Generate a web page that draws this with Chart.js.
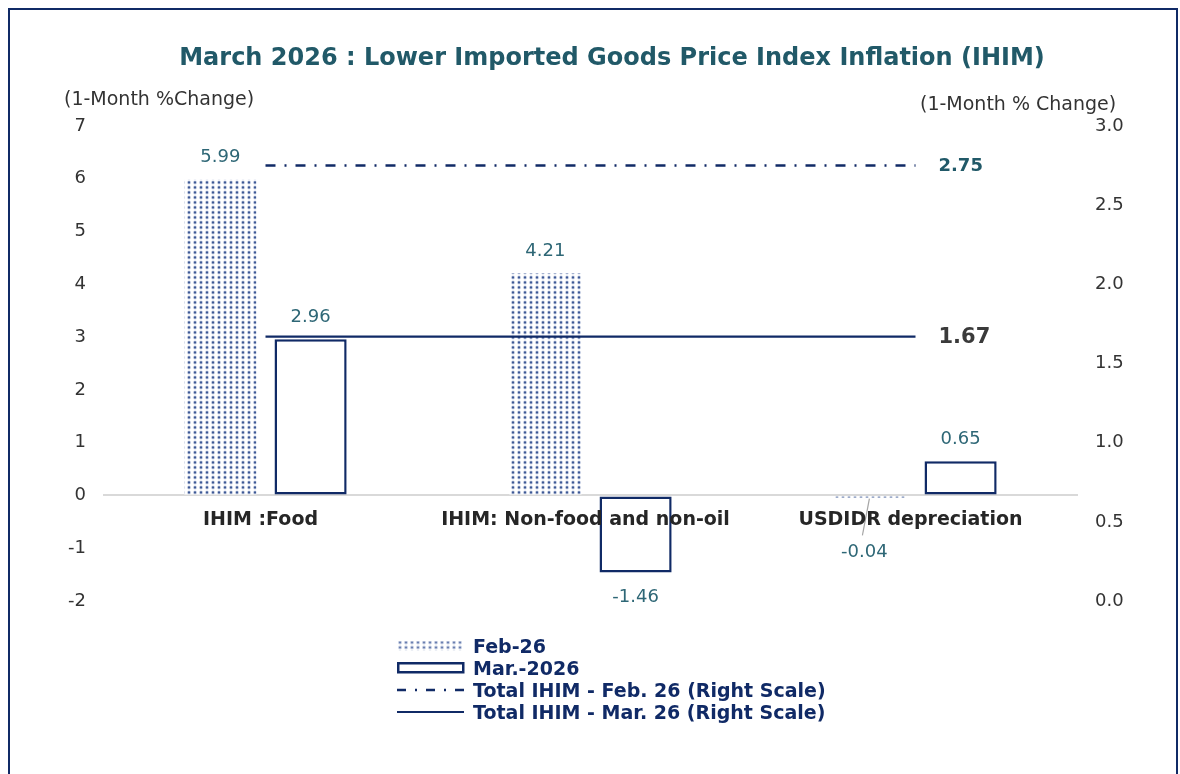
<!DOCTYPE html>
<html>
<head>
<meta charset="utf-8">
<script src="https://cdn.jsdelivr.net/npm/chart.js@4"></script>
<style>
  html, body { margin: 0; padding: 0; background: #fff; }
  body { width: 1180px; height: 774px; position: relative; overflow: hidden;
         font-family: "DejaVu Sans", Verdana, sans-serif; }
  #frame { position: absolute; left: 8px; top: 8px; width: 1170px; height: 800px;
           box-sizing: border-box; border: 2px solid #102a66; }
  #chart { position: absolute; left: 0; top: 0; }
  .txt { position: absolute; white-space: nowrap; line-height: 1; }
  #title { left: 612px; top: 45px; transform: translateX(-50%); font-size: 24px;
           font-weight: bold; color: #215968; }
  #headL { left: 64px; top: 89px; font-size: 19px; color: #333; }
  #headR { left: 920px; top: 94px; font-size: 19px; color: #333; }
  #legend { position: absolute; left: 397px; top: 635px; }
  .item { display: flex; align-items: center; height: 22px; font-size: 19px;
          font-weight: bold; color: #102a66; }
  .item svg { margin-right: 8px; }
</style>
</head>
<body>
<div id="frame"></div>
<canvas id="chart" width="1180" height="774"></canvas>
<div class="txt" id="title">March 2026 : Lower Imported Goods Price Index Inflation (IHIM)</div>
<div class="txt" id="headL">(1-Month %Change)</div>
<div class="txt" id="headR">(1-Month % Change)</div>
<div id="legend"></div>
<script>
const categories = ["IHIM :Food", "IHIM: Non-food and non-oil", "USDIDR depreciation"];
const feb26 = [5.99, 4.21, -0.04];
const mar26 = [2.96, -1.46, 0.65];
const totalFeb = [2.75, 2.75, 2.75];
const totalMar = [1.67, 1.67, 1.67];
const seriesNames = ["Feb-26", "Mar.-2026", "Total IHIM - Feb. 26 (Right Scale)", "Total IHIM - Mar. 26 (Right Scale)"];

const NAVY = "#102a66";
const TEAL = "#2e6776";
const FONT = "'DejaVu Sans', Verdana, sans-serif";
Chart.defaults.font.family = FONT;

function dotPattern() {
  const c = document.createElement("canvas");
  c.width = 6; c.height = 5;
  const g = c.getContext("2d");
  g.fillStyle = "#ffffff";
  g.fillRect(0, 0, 6, 5);
  g.fillStyle = "#c8d1e4";
  g.beginPath(); g.arc(3, 2.5, 2.0, 0, Math.PI * 2); g.fill();
  g.fillStyle = "#3d5895";
  g.beginPath(); g.arc(3, 2.5, 1.15, 0, Math.PI * 2); g.fill();
  return g.createPattern(c, "repeat");
}
const ctx = document.getElementById("chart").getContext("2d");
const febFill = dotPattern();

// value labels, category labels under the zero line, and end-of-line labels
const labelsPlugin = {
  id: "labels",
  afterDatasetsDraw(chart) {
    const g = chart.ctx;
    const y0 = chart.scales.y.getPixelForValue(0);
    g.save();
    g.textAlign = "center";
    g.textBaseline = "middle";

    [0, 1].forEach((di) => {
      const meta = chart.getDatasetMeta(di);
      const vals = chart.data.datasets[di].data;
      meta.data.forEach((el, i) => {
        const v = vals[i];
        g.font = "18px " + FONT;
        g.fillStyle = TEAL;
        if (v >= 0) {
          g.fillText(v.toFixed(2), el.x, el.y - 22);
        } else if (v > -0.3) {
          // tiny bar: push the label below the category text with a leader line
          const ly = y0 + 57;
          g.strokeStyle = "#a6a6a6";
          g.lineWidth = 1.2;
          g.beginPath();
          g.moveTo(el.x - 1, el.y + 1);
          g.lineTo(el.x - 8, ly - 17);
          g.stroke();
          g.fillText(v.toFixed(2), el.x - 6, ly);
        } else {
          g.fillText(v.toFixed(2), el.x, el.y + 25);
        }
      });
    });

    const x = chart.scales.x;
    g.font = "bold 19px " + FONT;
    g.fillStyle = "#262626";
    categories.forEach((c, i) => {
      g.fillText(c, x.getPixelForValue(i) - 5, y0 + 25);
    });

    g.textAlign = "left";
    const lf = chart.getDatasetMeta(2).data;
    const lm = chart.getDatasetMeta(3).data;
    const endF = lf[lf.length - 1], endM = lm[lm.length - 1];
    g.font = "bold 18px " + FONT;
    g.fillStyle = "#215968";
    g.fillText(totalFeb[totalFeb.length - 1].toFixed(2), endF.x + 23, endF.y + 1);
    g.font = "bold 21px " + FONT;
    g.fillStyle = "#3a3a3a";
    g.fillText(totalMar[totalMar.length - 1].toFixed(2), endM.x + 23, endM.y + 1);
    g.restore();
  }
};

new Chart(ctx, {
  data: {
    labels: categories,
    datasets: [
      {
        type: "bar", label: seriesNames[0], data: feb26, yAxisID: "y",
        backgroundColor: febFill, borderWidth: 0, order: 2,
        categoryPercentage: 0.555, barPercentage: 0.8,
      },
      {
        type: "bar", label: seriesNames[1], data: mar26, yAxisID: "y",
        backgroundColor: "#ffffff", borderColor: NAVY, borderWidth: 2.5,
        borderSkipped: false, order: 2,
        categoryPercentage: 0.555, barPercentage: 0.8,
      },
      {
        type: "line", label: seriesNames[2], data: totalFeb, yAxisID: "y1",
        borderColor: NAVY, borderWidth: 2.5, borderDash: [10, 9, 2, 9],
        pointRadius: 0, fill: false, order: 1,
      },
      {
        type: "line", label: seriesNames[3], data: totalMar, yAxisID: "y1",
        borderColor: NAVY, borderWidth: 2.2, pointRadius: 0, fill: false, order: 1,
      },
    ],
  },
  options: {
    responsive: false,
    devicePixelRatio: 1,
    animation: false,
    layout: { padding: { top: 126, bottom: 173, left: 0, right: 0 } },
    plugins: { legend: { display: false }, tooltip: { enabled: false }, title: { display: false } },
    scales: {
      x: { display: false, offset: true },
      y: {
        position: "left", min: -2, max: 7,
        ticks: { stepSize: 1, padding: 17, color: "#333", font: { size: 18 } },
        grid: {
          drawTicks: false, lineWidth: 2,
          color: (c) => (c.tick && c.tick.value === 0 ? "#d9d9d9" : "rgba(0,0,0,0)"),
        },
        border: { display: false },
        afterFit: (s) => { s.width = 103; },
      },
      y1: {
        position: "right", min: 0, max: 3,
        ticks: { stepSize: 0.5, padding: 17, color: "#333", font: { size: 18 },
                 callback: (v) => Number(v).toFixed(1) },
        grid: { display: false, drawTicks: false },
        border: { display: false },
        afterFit: (s) => { s.width = 102; },
      },
    },
  },
  plugins: [labelsPlugin],
});

// legend
const swatches = [
  '<svg width="68" height="12"><defs><pattern id="dp" width="6" height="5" patternUnits="userSpaceOnUse">' +
    '<rect width="6" height="5" fill="#fff"/><circle cx="3" cy="2.5" r="2" fill="#c8d1e4"/>' +
    '<circle cx="3" cy="2.5" r="1.1" fill="#6a7fb0"/></pattern></defs>' +
    '<rect x="0" y="1" width="67" height="10" fill="url(#dp)"/></svg>',
  '<svg width="68" height="12"><rect x="1.25" y="1.25" width="65" height="9" fill="#fff" stroke="' + NAVY + '" stroke-width="2.5"/></svg>',
  '<svg width="68" height="12"><line x1="0" y1="6" x2="67" y2="6" stroke="' + NAVY + '" stroke-width="2.5" stroke-dasharray="9 9 2 9"/></svg>',
  '<svg width="68" height="12"><line x1="0" y1="6" x2="67" y2="6" stroke="' + NAVY + '" stroke-width="2"/></svg>',
];
document.getElementById("legend").innerHTML = seriesNames
  .map((n, i) => '<div class="item">' + swatches[i] + "<span>" + n + "</span></div>")
  .join("");
</script>
</body>
</html>
